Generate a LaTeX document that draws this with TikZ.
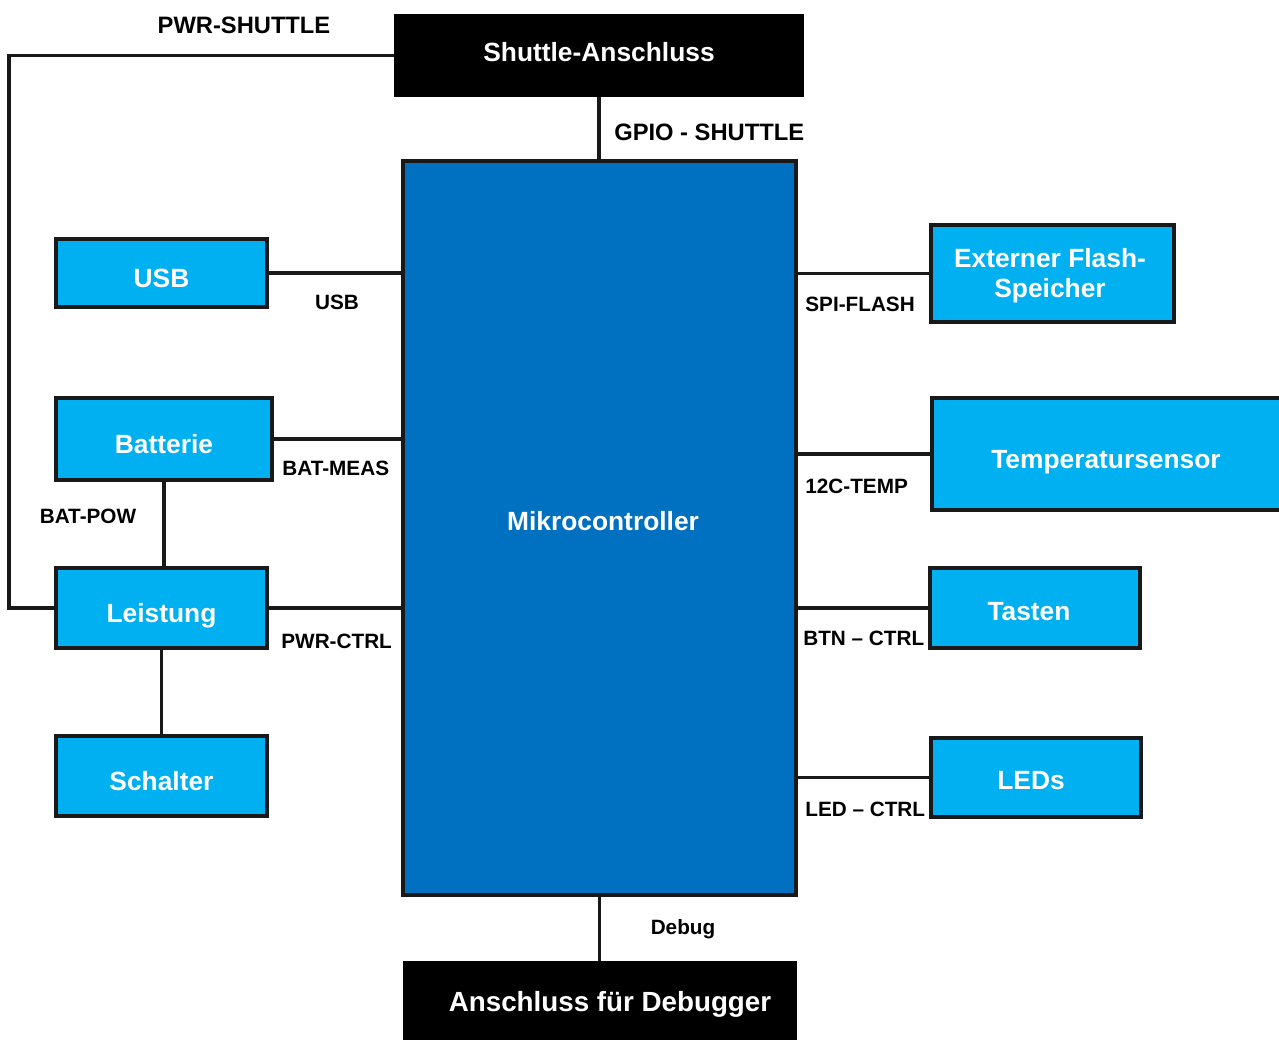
\documentclass[tikz,border=0pt]{standalone}
\usepackage{fontspec}
\setmainfont{Liberation Sans}
\definecolor{lblue}{HTML}{00B0F0}
\definecolor{mblue}{HTML}{0070C0}
\begin{document}
\begin{tikzpicture}[x=0.02cm,y=-0.02cm,
  conn/.style={line width=2pt,draw=black!90},
  lbox/.style={draw=black!90,line width=1.8pt,fill=lblue,text=white,inner sep=0pt,
    font=\fontsize{15}{18}\selectfont\bfseries,text height=16.3pt,text depth=0pt},
  kbox/.style={draw=black,line width=1.2pt,fill=black,text=white,inner sep=0pt,
    font=\fontsize{15}{18}\selectfont\bfseries},
  mbox/.style={draw=black!90,line width=1.8pt,fill=mblue,inner sep=0pt},
  wtext/.style={inner sep=0pt,text=white,font=\fontsize{15}{18}\selectfont\bfseries},
  sig/.style={inner sep=0pt,font=\fontsize{11.8}{14}\selectfont\bfseries},
  tsig/.style={inner sep=0pt,font=\fontsize{13.5}{16}\selectfont\bfseries}]
\useasboundingbox (0,0) rectangle (1279,1040);
\clip (0,0) rectangle (1279,1040);
\fill[white] (0,0) rectangle (1279,1040);

% boxes
\node[kbox,minimum width=8.16cm,minimum height=1.62cm] (shuttle) at (599,55.5) {};
\node[wtext] (shuttletext) at (599,52) {Shuttle-Anschluss};
\node[mbox,minimum width=7.86cm,minimum height=14.68cm] (mc) at (599.5,528) {};
\node[wtext] (mctext) at (603,521) {Mikrocontroller};
\node[kbox,minimum width=7.84cm,minimum height=1.76cm] (dbg) at (600,1006) {};
\node[wtext,font=\fontsize{15.8}{19}\selectfont\bfseries] (dbgtext) at (610,1004) {Anschluss für Debugger};

\node[lbox,minimum width=4.22cm,minimum height=1.36cm] (usb) at (161.5,273) {USB};
\node[lbox,minimum width=4.32cm,minimum height=1.64cm] (bat) at (164,439) {Batterie};
\node[lbox,minimum width=4.22cm,minimum height=1.60cm] (pwr) at (161.5,608) {Leistung};
\node[lbox,minimum width=4.22cm,minimum height=1.60cm] (sw) at (161.5,776) {Schalter};

\node[lbox,minimum width=4.86cm,minimum height=1.94cm] (flash) at (1052.5,273.5) {};
\node[wtext,align=center,font=\fontsize{15}{17}\selectfont\bfseries] (flashtext) at (1050,276) {Externer Flash-\\Speicher};
\node[lbox,minimum width=7.04cm,minimum height=2.24cm] (temp) at (1108,454) {};
\node[wtext] (temptext) at (1106,462) {Temperatursensor};
\node[lbox,minimum width=4.20cm,minimum height=1.60cm] (btn) at (1035,608) {};
\node[wtext] (btntext) at (1029,612) {Tasten};
\node[lbox,minimum width=4.20cm,minimum height=1.58cm] (led) at (1036,777.5) {};
\node[wtext] (ledtext) at (1031,781) {LEDs};

% connectors
\coordinate (pl) at (9,55.5);
\draw[conn] (shuttle.west) -- (pl) |- (pwr.west);
\draw[conn] (shuttle.south) -- (shuttle.south |- mc.north);
\draw[conn] (usb.east) -- (usb.east -| mc.west);
\draw[conn] (bat.east) -- (bat.east -| mc.west);
\draw[conn] (pwr.east) -- (pwr.east -| mc.west);
\draw[conn] (bat.south) -- (bat.south |- pwr.north);
\draw[conn] (pwr.south) -- (pwr.south |- sw.north);
\draw[conn] (flash.west) -- (flash.west -| mc.east);
\draw[conn] (temp.west) -- (temp.west -| mc.east);
\draw[conn] (btn.west) -- (btn.west -| mc.east);
\draw[conn] (led.west) -- (led.west -| mc.east);
\draw[conn] (mc.south) -- (mc.south |- dbg.north);

% signal labels
\node[tsig] (lps) at (244,25) {PWR-SHUTTLE};
\node[tsig,anchor=west] (lgpio) at (614,132) {GPIO - SHUTTLE};
\node[sig] (lusb) at (337,302) {USB};
\node[sig,anchor=west] (lbm) at (282,468) {BAT-MEAS};
\node[sig] (lbp) at (88,516) {BAT-POW};
\node[sig,anchor=west] (lpc) at (281,641) {PWR-CTRL};
\node[sig,anchor=west] (lspi) at (805,304) {SPI-FLASH};
\node[sig,anchor=west] (li2c) at (805,486) {12C-TEMP};
\node[sig,anchor=west] (lbtn) at (803,638) {BTN – CTRL};
\node[sig,anchor=west] (lled) at (805,809) {LED – CTRL};
\node[sig] (ldbg) at (683,929) {Debug};
\end{tikzpicture}
\end{document}
